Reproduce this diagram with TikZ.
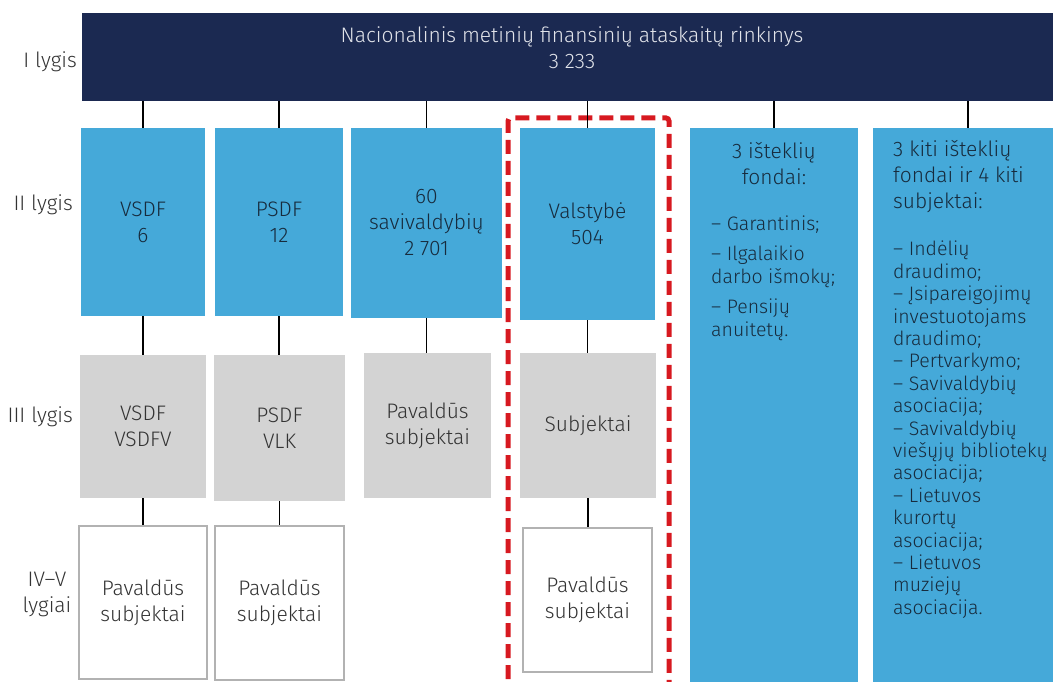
\documentclass[tikz,border=0pt]{standalone}
\usepackage{fontspec}
\setmainfont{Fira Sans Light}
\usetikzlibrary{calc}
\definecolor{navy}{HTML}{1B2951}
\definecolor{sky}{HTML}{45A9D9}
\definecolor{lgray}{HTML}{D3D3D3}
\definecolor{txt}{HTML}{333333}
\definecolor{bluetxt}{HTML}{172B3D}
\definecolor{dred}{HTML}{D71920}
\definecolor{toptxt}{HTML}{E2E4EA}
\begin{document}
\begin{tikzpicture}[x=1pt,y=-1pt, font=\fontsize{21}{26}\selectfont,
 box/.style={rectangle, inner sep=0pt, align=center, anchor=center},
 navybox/.style={box, fill=navy},
 bluebox/.style={box, fill=sky, text=bluetxt},
 graybox/.style={box, fill=lgray, text=txt},
 whitebox/.style={box, fill=white, draw=black!30, line width=1.2pt, text=txt},
 conn/.style={draw=black, line width=1.6pt},
 lvl/.style={text=txt, align=center, inner sep=0pt},
]
\useasboundingbox (0,0) rectangle (1053,682);

% level I
\node[navybox, minimum width=971, minimum height=88] (top) at (567.5,57) {};
\node[align=center, text=toptxt, inner sep=0pt] (toptxt) at (572,48) {Nacionalinis metinių finansinių ataskaitų rinkinys\\3 233};

% level II
\node[bluebox, minimum width=124, minimum height=188] (vsdf) at (143,222) {VSDF\\6};
\node[bluebox, minimum width=128, minimum height=188] (psdf) at (279,222) {PSDF\\12};
\node[bluebox, minimum width=151, minimum height=190] (sav) at (426.5,223) {60\\savivaldybių\\2 701};
\node[bluebox, minimum width=135, minimum height=192] (val) at (587.5,224) {Valstybė\\504};
\node[bluebox, minimum width=168, minimum height=554] (ist) at (774,405) {};
\node[bluebox, minimum width=180, minimum height=554] (kiti) at (963,405) {};

\node[text=bluetxt, align=center, inner sep=0pt] (isthead) at (774,164) {3 išteklių\\fondai:};
\node[text=bluetxt, align=left, inner sep=0pt, anchor=north west,
      font=\fontsize{19.5}{23}\selectfont] (istlist) at (711,216)
  {– Garantinis;\\[7pt]– Ilgalaikio\\darbo išmokų;\\[7pt]– Pensijų\\anuitetų.};

\node[text=bluetxt, align=left, inner sep=0pt, anchor=north west] (kitihead) at (893,140)
  {3 kiti išteklių\\fondai ir 4 kiti\\subjektai:};
\node[text=bluetxt, align=left, inner sep=0pt, anchor=north west,
      font=\fontsize{19.5}{22.4}\selectfont] (kitilist) at (893,241)
  {– Indėlių\\draudimo;\\– Įsipareigojimų\\investuotojams\\draudimo;\\– Pertvarkymo;\\– Savivaldybių\\asociacija;\\– Savivaldybių\\viešųjų bibliotekų\\asociacija;\\– Lietuvos\\kurortų\\asociacija;\\– Lietuvos\\muziejų\\asociacija.};

% level III
\node[graybox, minimum width=126, minimum height=143] (vsdfv) at (143,426.5) {VSDF\\VSDFV};
\node[graybox, minimum width=131, minimum height=146] (vlk) at (279.5,428) {PSDF\\VLK};
\node[graybox, minimum width=127, minimum height=145] (savsub) at (427.5,425.5) {Pavaldūs\\subjektai};
\node[graybox, minimum width=136, minimum height=145] (subj) at (588,425.5) {Subjektai};

% level IV
\node[whitebox, minimum width=128, minimum height=153] (pav1) at (143,602.5) {Pavaldūs\\subjektai};
\node[whitebox, minimum width=129, minimum height=154] (pav2) at (279.5,603) {Pavaldūs\\subjektai};
\node[whitebox, minimum width=129, minimum height=144] (pav3) at (587.5,600) {Pavaldūs\\subjektai};

% level labels
\node[lvl, anchor=east] (l1) at (77,62) {I lygis};
\node[lvl, anchor=east] (l2) at (73,205) {II lygis};
\node[lvl, anchor=east] (l3) at (73,417) {III lygis};
\node[lvl] (l4) at (47,594) {IV–V\\lygiai};

% red dashed frame
\draw[dred, line width=5, dash pattern=on 14 off 7, rounded corners=3]
  (508,700) -- (508,118) -- (669,118) -- (669,700);

% connectors
\coordinate (kt) at ($(kiti.north)+(5,0)$);
\draw[conn] (top.south -| vsdf.north) -- (vsdf.north);
\draw[conn] (top.south -| psdf.north) -- (psdf.north);
\draw[conn] (top.south -| sav.north) -- (sav.north);
\draw[conn] (top.south -| val.north) -- (val.north);
\draw[conn] (top.south -| ist.north) -- (ist.north);
\draw[conn] (top.south -| kt) -- (kt);

\draw[conn] (vsdf.south) -- (vsdf.south |- vsdfv.north);
\draw[conn] (psdf.south) -- (psdf.south |- vlk.north);
\draw[conn] (sav.south) -- (sav.south |- savsub.north);
\draw[conn] (val.south) -- (val.south |- subj.north);

\draw[conn] (vsdfv.south) -- (vsdfv.south |- pav1.north);
\draw[conn] (vlk.south) -- (vlk.south |- pav2.north);
\draw[conn] (subj.south) -- (subj.south |- pav3.north);
\end{tikzpicture}
\end{document}
